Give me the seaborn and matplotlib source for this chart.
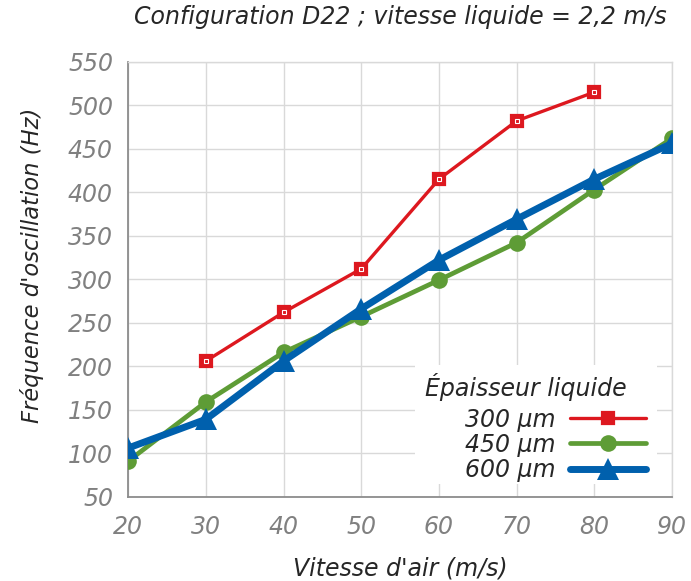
import matplotlib
matplotlib.use("Agg")
import matplotlib.pyplot as plt
from matplotlib.patches import Rectangle
import seaborn as sns
import pandas as pd

# Vitesse d'air (m/s) et fréquences mesurées (Hz) pour chaque épaisseur de film
vitesse_air = [20, 30, 40, 50, 60, 70, 80, 90]
freq_300 = [None, 206, 262, 312, 415, 482, 515, None]
freq_450 = [91, 159, 216, 257, 299, 342, 403, 462]
freq_600 = [106, 139, 206, 266, 322, 369, 415, 456]
labels = ["300 µm", "450 µm", "600 µm"]
x_ticks = [20, 30, 40, 50, 60, 70, 80, 90]
y_ticks = [50, 100, 150, 200, 250, 300, 350, 400, 450, 500, 550]

sns.set_theme(style="white")
plt.rcParams["font.family"] = ["DejaVu Sans"]
plt.rcParams["font.style"] = "italic"

FS = 17
GRID = "#d9d9d9"
AXIS = "#8c8c8c"

fig = plt.figure(figsize=(6.91, 5.81), dpi=100)
ax = fig.add_axes([0.1857, 0.1451, 0.7868, 0.7487])

series = [
    (freq_300, labels[0], "#dd181f", 2.4, "s", 9, 1.6),
    (freq_450, labels[1], "#5e9c36", 3.4, "o", 12, 0),
    (freq_600, labels[2], "#0060ad", 5.0, "^", 16, 0),
]

for vals, lab, col, lw, mk, ms, mew in series:
    df = pd.DataFrame({"x": vitesse_air, "y": vals}).dropna()
    sns.lineplot(data=df, x="x", y="y", ax=ax, color=col, linewidth=lw,
                 marker=mk, markersize=ms, markeredgewidth=mew,
                 markeredgecolor=col, markerfacecolor=col, label=lab, zorder=3)

# small white outline inside the red squares
df300 = pd.DataFrame({"x": vitesse_air, "y": freq_300}).dropna()
ax.plot(df300["x"], df300["y"], linestyle="none", marker="s", markersize=3.5,
        markerfacecolor="none", markeredgecolor="white", markeredgewidth=0.8,
        zorder=4)

ax.set_xlim(20, 90)
ax.set_ylim(50, 550)
ax.set_xticks(x_ticks)
ax.set_yticks(y_ticks)
ax.grid(True, color=GRID, linewidth=1)
ax.set_axisbelow(True)

for side in ["top", "right"]:
    ax.spines[side].set_color(GRID)
    ax.spines[side].set_linewidth(1)
for side in ["left", "bottom"]:
    ax.spines[side].set_color(AXIS)
    ax.spines[side].set_linewidth(1.3)

ax.tick_params(axis="both", labelsize=FS, labelcolor="#808080", colors=AXIS,
               direction="in", length=8.5, width=1.1)
ax.tick_params(axis="x", pad=13)
ax.tick_params(axis="y", pad=11)
for t in ax.get_xticklabels() + ax.get_yticklabels():
    t.set_fontstyle("italic")
    t.set_color("#808080")

ax.set_xlabel("Vitesse d'air (m/s)", fontsize=FS, fontstyle="italic", labelpad=13)
ax.set_ylabel("Fréquence d'oscillation (Hz)", fontsize=16.3, fontstyle="italic")
ax.yaxis.set_label_coords(-0.155, 0.531)
fig.text(0.579, 0.97, "Configuration D22 ; vitesse liquide = 2,2 m/s",
         ha="center", va="center", fontsize=FS, fontstyle="italic")

# white background of the key, leaving the bottom ticks visible
ax.add_patch(Rectangle((0.527, 0.03), 0.445, 0.273, transform=ax.transAxes,
                       facecolor="white", edgecolor="none", zorder=1))

leg = ax.legend(loc="upper left", bbox_to_anchor=(0.619, 0.205),
                frameon=False, markerfirst=False, fontsize=FS,
                handlelength=3.18, handletextpad=0.64, labelspacing=0.05,
                borderpad=0, borderaxespad=0)
for t in leg.get_texts():
    t.set_fontstyle("italic")
ax.text(0.5457, 0.252, "Épaisseur liquide", transform=ax.transAxes,
        ha="left", va="center", fontsize=FS, fontstyle="italic", zorder=5)

fig.savefig("out.png", dpi=100)
